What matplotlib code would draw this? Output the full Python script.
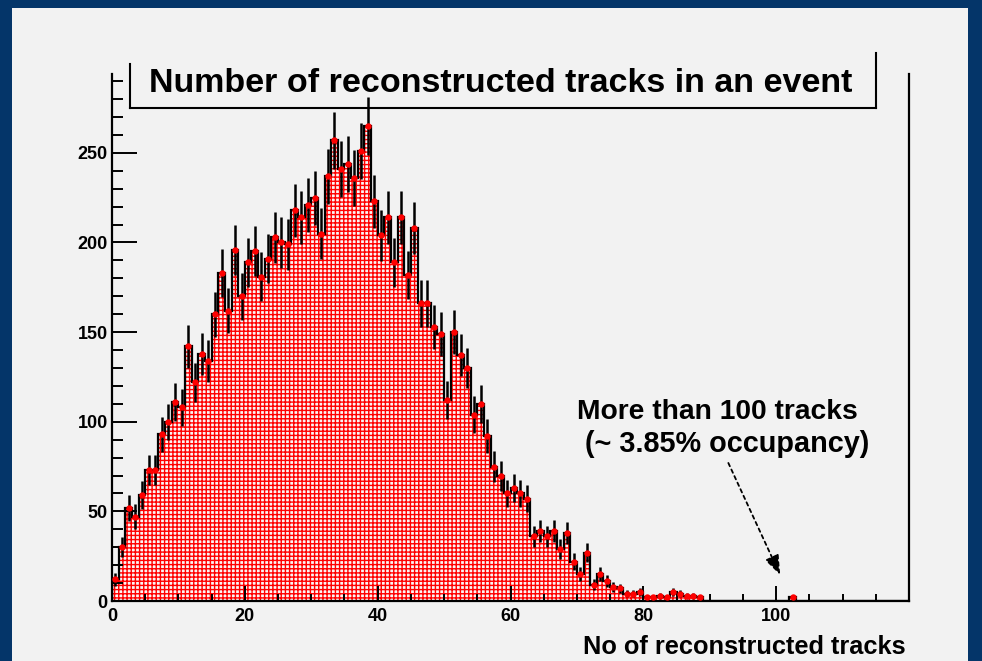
import numpy as np
import matplotlib
matplotlib.use("Agg")
import matplotlib.pyplot as plt
from matplotlib.patches import Rectangle
from matplotlib.lines import Line2D
from matplotlib.ticker import MultipleLocator

# ---------------- data ----------------
bin_edges = np.arange(0, 121, 1)
counts = [
    12, 30, 52, 47, 59, 73, 73, 93, 100, 111,
    108, 142, 122, 138, 134, 160, 183, 162, 196, 170,
    189, 195, 181, 191, 203, 200, 199, 218, 214, 221,
    225, 205, 237, 257, 241, 244, 236, 251, 265, 223,
    204, 214, 189, 214, 182, 208, 166, 166, 153, 149,
    112, 150, 137, 130, 104, 110, 92, 75, 70, 60,
    63, 60, 57, 36, 39, 36, 39, 29, 38, 22,
    15, 27, 9, 15, 11, 8, 7, 4, 4, 5,
    2, 2, 3, 2, 5, 4, 3, 3, 2, 0,
    0, 0, 0, 0, 0, 0, 0, 0, 0, 0,
    0, 0, 2, 0, 0, 0, 0, 0, 0, 0,
    0, 0, 0, 0, 0, 0, 0, 0, 0, 0,
]
y_ticks = [0, 50, 100, 150, 200, 250]
x_ticks = [0, 20, 40, 60, 80, 100]
title = "Number of reconstructed tracks in an event"
x_label = "No of reconstructed tracks"
note_line1 = "More than 100 tracks"
note_line2 = "(~ 3.85% occupancy)"

# ---------------- style ----------------
plt.rcParams['font.family'] = ['Liberation Sans', 'DejaVu Sans']
plt.rcParams['font.weight'] = 'bold'
plt.rcParams['hatch.linewidth'] = 1.0
plt.rcParams['hatch.color'] = 'red'

W, H = 982, 661
fig = plt.figure(figsize=(W / 100, H / 100), dpi=100)
fig.patch.set_facecolor('#043569')
# light grey canvas inside the blue frame
bg = Rectangle((12 / W, 0), 956 / W, (H - 8) / H,
               transform=fig.transFigure, facecolor='#f2f2f2',
               edgecolor='none', zorder=-10)
fig.add_artist(bg)

ax = fig.add_axes([112 / W, 1 - 601 / H, (909 - 112) / W, (601 - 74) / H])
ax.set_zorder(1)
ax.set_facecolor('#f2f2f2')

counts_arr = np.array(counts, dtype=float)
centers = 0.5 * (bin_edges[:-1] + bin_edges[1:])

# hatched fill
ax.stairs(counts_arr, bin_edges, fill=True, facecolor='#fbf4f4',
          edgecolor='red', hatch='++++', linewidth=0, zorder=1)
# black outline
ax.stairs(counts_arr, bin_edges, fill=False, color='black',
          linewidth=1.6, zorder=2)
# error bars + markers (non-empty bins only)
mask = counts_arr > 0
ax.errorbar(centers[mask], counts_arr[mask], yerr=np.sqrt(counts_arr[mask]),
            fmt='o', color='red', ecolor='black', elinewidth=1.8,
            markersize=3.6, capsize=0, zorder=3)

ax.set_xlim(0, 120)
ax.set_ylim(0, 294)

ax.set_xticks(x_ticks)
ax.set_xticklabels([str(v) for v in x_ticks])
ax.set_yticks(y_ticks)
ax.set_yticklabels([str(v) for v in y_ticks])
ax.xaxis.set_minor_locator(MultipleLocator(5))
ax.yaxis.set_minor_locator(MultipleLocator(10))

ax.tick_params(axis='y', which='major', direction='in', length=18, width=1.4,
               labelsize=13, pad=3, right=False)
ax.tick_params(axis='y', which='minor', direction='in', length=8, width=1.4,
               right=False)
ax.tick_params(axis='x', which='major', direction='in', length=11, width=1.4,
               labelsize=13, pad=5, top=False)
ax.tick_params(axis='x', which='minor', direction='in', length=5, width=1.4,
               top=False)
for lab in ax.get_xticklabels() + ax.get_yticklabels():
    lab.set_fontweight('bold')

for s in ['left', 'bottom', 'right']:
    ax.spines[s].set_linewidth(1.6)
    ax.spines[s].set_color('black')
ax.spines['top'].set_visible(False)

ax.set_xlabel(x_label, fontsize=18.3, fontweight='bold', loc='right')
ax.xaxis.set_label_coords(0.996, -0.064)

# annotation
ax.text(70.0, 105.6, note_line1, fontsize=20.3, fontweight='bold',
        ha='left', va='center')
ax.text(71.2, 87.7, note_line2, fontsize=20.8, fontweight='bold',
        ha='left', va='center')
ax.annotate('', xy=(100.6, 14.5), xytext=(92.8, 77),
            arrowprops=dict(arrowstyle='-|>,head_length=1.2,head_width=0.45',
                            linestyle=(0, (2, 2)), lw=1.3, color='black',
                            shrinkA=0, shrinkB=0))

# title box (left, bottom and right sides)
def fx(px):
    return px / W

def fy(py):
    return 1 - py / H

for (x0, y0, x1, y1) in [(130, 64, 130, 108), (130, 108, 876, 108),
                         (876, 53, 876, 108)]:
    fig.add_artist(Line2D([fx(x0), fx(x1)], [fy(y0), fy(y1)],
                          transform=fig.transFigure, color='black', lw=1.5,
                          zorder=5))
fig.text(fx(501), fy(83), title, fontsize=24.5, fontweight='bold',
         ha='center', va='center', zorder=5)

fig.savefig('out.png', dpi=100, facecolor=fig.get_facecolor())
